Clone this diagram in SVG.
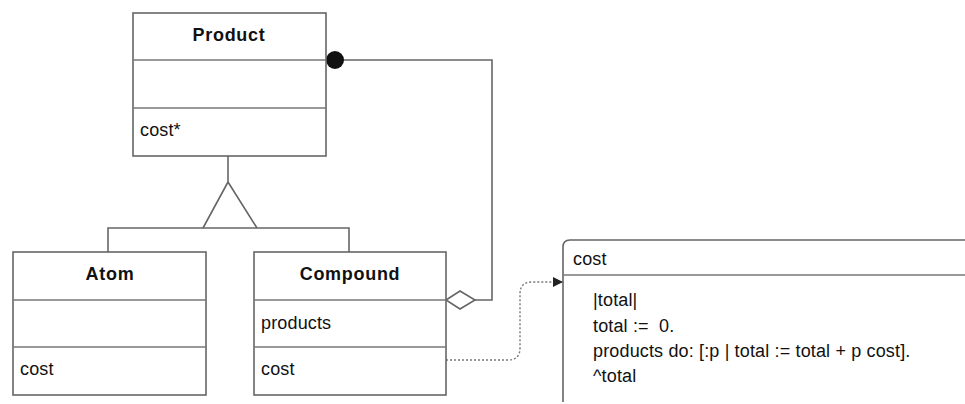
<svg xmlns="http://www.w3.org/2000/svg" width="965" height="404" viewBox="0 0 965 404">
<style>
.box{fill:#fff;stroke:#666;stroke-width:1.6}
.div{stroke:#777;stroke-width:1.6}
.ln{fill:none;stroke:#666;stroke-width:1.6}
.dot{fill:none;stroke:#777;stroke-width:1.4;stroke-dasharray:2 2}
.t{font-family:"Liberation Sans",Arial,sans-serif;font-size:18px;fill:#111;letter-spacing:0.15px;white-space:pre}
.b{font-family:"Liberation Sans",Arial,sans-serif;font-size:18px;font-weight:bold;fill:#111;text-anchor:middle;letter-spacing:0.7px}
</style>
<defs>
<marker id="arr" viewBox="0 0 10 10" refX="10" refY="5" markerWidth="10" markerHeight="10" markerUnits="userSpaceOnUse" orient="auto">
<path d="M0,0 L10,5 L0,10 Z" fill="#222"/>
</marker>
</defs>
<rect width="965" height="404" fill="#fff"/>
<g id="connectors">
<path class="ln" d="M228,156 V182"/>
<path class="ln" d="M228,182 L203,228 M228,182 L257,228"/>
<path class="ln" d="M108,252 V228 H349 V252"/>
<path class="ln" d="M334,60 H492 V300 H475"/>
<circle cx="335" cy="60" r="9" fill="#111"/>
<path d="M446,300 L460,291 L475,300 L460,309 Z" fill="#fff" stroke="#666" stroke-width="1.6"/>
<path class="dot" d="M446,360 H508 Q520,360 520,348 V294 Q520,282 532,282 H563" marker-end="url(#arr)"/>
</g>
<g id="product">
<rect class="box" x="133" y="13" width="193" height="143"/>
<line class="div" x1="133" y1="60" x2="326" y2="60"/>
<line class="div" x1="133" y1="108" x2="326" y2="108"/>
<text class="b" x="229" y="41">Product</text>
<text class="t" x="140" y="136">cost*</text>
</g>
<g id="atom">
<rect class="box" x="13" y="252" width="193" height="143"/>
<line class="div" x1="13" y1="300" x2="206" y2="300"/>
<line class="div" x1="13" y1="347" x2="206" y2="347"/>
<text class="b" x="110" y="280">Atom</text>
<text class="t" x="20" y="375">cost</text>
</g>
<g id="compound">
<rect class="box" x="254" y="252" width="192" height="143"/>
<line class="div" x1="254" y1="300" x2="446" y2="300"/>
<line class="div" x1="254" y1="347" x2="446" y2="347"/>
<text class="b" x="350" y="280">Compound</text>
<text class="t" x="261" y="329">products</text>
<text class="t" x="261" y="375">cost</text>
</g>
<g id="note">
<path class="box" d="M563,402 V247 Q563,240 570,240 H966 V402"/>
<line class="div" x1="563" y1="275" x2="966" y2="275"/>
<text class="t" x="573" y="265">cost</text>
<text class="t" x="593" y="306">|total|</text>
<text class="t" x="593" y="332" xml:space="preserve">total :=  0.</text>
<text class="t" x="593" y="357">products do: [:p | total := total + p cost].</text>
<text class="t" x="593" y="382">^total</text>
</g>
</svg>
